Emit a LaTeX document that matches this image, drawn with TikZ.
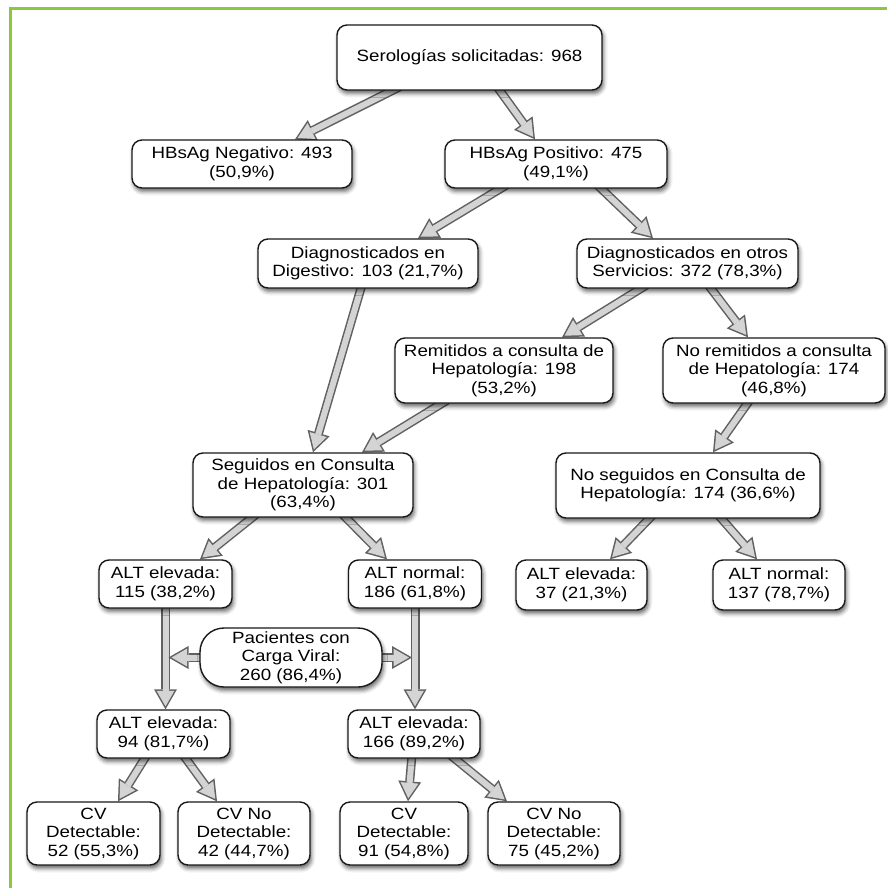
\documentclass[tikz,border=0pt]{standalone}
\usepackage{fontspec}
\setmainfont{Liberation Sans}[FakeStretch=1.15]
\usetikzlibrary{arrows.meta,shadows.blur,backgrounds,calc}
\definecolor{framegreen}{RGB}{141,198,63}
\newcommand{\boxfont}{\fontsize{16.3pt}{18.5pt}\selectfont}

\begin{document}
\begin{tikzpicture}[
    x=1pt, y=-1pt,
    box/.style={draw=black!90, fill=white, rounded corners=10pt, line width=1.4pt, align=center, inner sep=0pt, font=\boxfont, text=black,
      blur shadow={shadow xshift=1.5pt, shadow yshift=-3.5pt, shadow blur radius=4pt, shadow opacity=60}},
    dims/.style 2 args={minimum width=#1pt, minimum height=#2pt},
    pill/.style={box, rounded corners=24pt},
    fat/.style={draw=black!62, line width=9pt, -{Triangle[length=20pt, width=23pt, line width=0pt]},
      postaction={draw=black!17, line width=6pt, -{Triangle[length=15.5pt, width=17.8pt, line width=0pt]}, shorten >=3pt}},
    frame/.style={draw=framegreen, line width=3pt}
  ]
    \useasboundingbox (0,0) rectangle (887,888);
    \draw[frame] (10,888) -- (10,9) -- (887,9);

    % top levels
    \node[box, dims={265}{65}] (ser) at (469.5,57.5) {Serologías solicitadas: 968};
    \node[box, dims={220}{48}] (neg) at (242,164) {HBsAg Negativo: 493\\(50,9\%)};
    \node[box, dims={222}{48}] (pos) at (556,164) {HBsAg Positivo: 475\\(49,1\%)};
    \node[box, dims={220}{49}] (dig) at (368,263.5) {Diagnosticados en\\Digestivo: 103 (21,7\%)};
    \node[box, dims={221}{49}] (otr) at (687.5,263.5) {Diagnosticados en otros\\Servicios: 372 (78,3\%)};
    \node[box, dims={218}{65}] (rem) at (504,370.5) {Remitidos a consulta de\\Hepatología: 198\\(53,2\%)};
    \node[box, dims={222}{65}] (nrem) at (774,370.5) {No remitidos a consulta\\de Hepatología: 174\\(46,8\%)};
    \node[box, dims={220}{64}] (seg) at (303,485) {Seguidos en Consulta\\de Hepatología: 301\\(63,4\%)};
    \node[box, dims={264}{65}] (nseg) at (688,485.5) {No seguidos en Consulta de\\Hepatología: 174 (36,6\%)};

    % ALT levels
    \node[box, dims={133}{48}] (altA) at (165.5,584) {ALT elevada:\\115 (38,2\%)};
    \node[box, dims={133}{48}] (altB) at (415,584) {ALT normal:\\186 (61,8\%)};
    \node[box, dims={131}{50}] (altC) at (581.5,585) {ALT elevada:\\37 (21,3\%)};
    \node[box, dims={132}{50}] (altD) at (779,585) {ALT normal:\\137 (78,7\%)};
    \node[pill, dims={182}{59}] (pac) at (291,657.5) {Pacientes con\\Carga Viral:\\260 (86,4\%)};
    \node[box, dims={133}{48}] (altE) at (163.5,734) {ALT elevada:\\94 (81,7\%)};
    \node[box, dims={132}{48}] (altF) at (414,734) {ALT elevada:\\166 (89,2\%)};

    % viral load
    \node[box, dims={133}{63}] (cvA) at (93.5,833.5) {CV\\Detectable:\\52 (55,3\%)};
    \node[box, dims={132}{63}] (cvB) at (244,833.5) {CV No\\Detectable:\\42 (44,7\%)};
    \node[box, dims={128}{63}] (cvC) at (404,833.5) {CV\\Detectable:\\91 (54,8\%)};
    \node[box, dims={132}{63}] (cvD) at (554,833.5) {CV No\\Detectable:\\75 (45,2\%)};

    \begin{scope}[on background layer]
      \draw[fat] ([xshift=-69.5pt,yshift=4pt]ser.south) -- ([xshift=53pt]neg.north);
      \draw[fat] ([xshift=27.5pt,yshift=4pt]ser.south) -- ([xshift=-21pt]pos.north);
      \draw[fat] ([xshift=-49pt,yshift=4pt]pos.south) -- ([xshift=50pt]dig.north);
      \draw[fat] ([xshift=41pt,yshift=4pt]pos.south) -- ([xshift=-34.5pt]otr.north);
      \draw[fat] ([xshift=-6pt,yshift=4pt]dig.south) -- ([xshift=10pt]seg.north);
      \draw[fat] ([xshift=-40.5pt,yshift=4pt]otr.south) -- ([xshift=58pt]rem.north);
      \draw[fat] ([xshift=20.5pt,yshift=4pt]otr.south) -- ([xshift=-26pt]nrem.north);
      \draw[fat] ([xshift=-56pt,yshift=4pt]rem.south) -- ([xshift=59pt]seg.north);
      \draw[fat] ([xshift=-24pt,yshift=4pt]nrem.south) -- ([xshift=25pt]nseg.north);
      \draw[fat] ([xshift=-46pt,yshift=4pt]seg.south) -- ([xshift=34.5pt]altA.north);
      \draw[fat] ([xshift=39pt,yshift=4pt]seg.south) -- ([xshift=-28pt]altB.north);
      \draw[fat] ([xshift=-35pt,yshift=4pt]nseg.south) -- ([xshift=28.5pt]altC.north);
      \draw[fat] ([xshift=30pt,yshift=4pt]nseg.south) -- ([xshift=-22pt]altD.north);
      \draw[fat] ([yshift=4pt]altA.south) -- (altA.south |- altE.north);
      \draw[fat] ([yshift=4pt]altB.south) -- (altB.south |- altF.north);
      \draw[fat] ([xshift=4pt]pac.west) -- ($(altA.south |- pac.west)+(3,0)$);
      \draw[fat] ([xshift=-4pt]pac.east) -- ($(altB.south |- pac.east)+(-3,0)$);
      \draw[fat] ([xshift=-16.5pt,yshift=4pt]altE.south) -- ([xshift=24.5pt]cvA.north);
      \draw[fat] ([xshift=19.5pt,yshift=4pt]altE.south) -- ([xshift=-27pt]cvB.north);
      \draw[fat] ([xshift=-2pt,yshift=4pt]altF.south) -- ([xshift=4pt]cvC.north);
      \draw[fat] ([xshift=36pt,yshift=4pt]altF.south) -- ([xshift=-47pt]cvD.north);
    \end{scope}
\end{tikzpicture}
\end{document}
